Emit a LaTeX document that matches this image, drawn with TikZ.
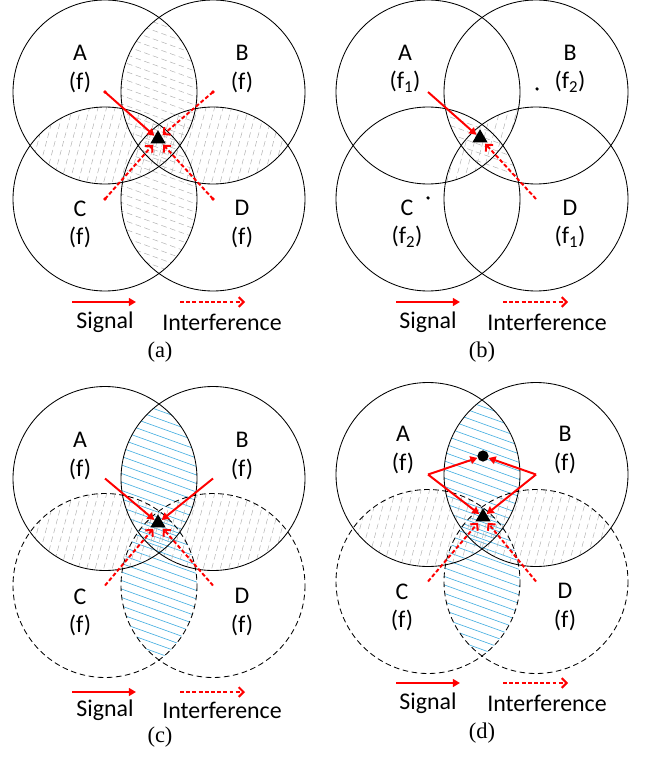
\documentclass[tikz,border=0pt]{standalone}
\usepackage{fontspec}
\setmainfont{Liberation Serif}
\newfontfamily\lblfont{Carlito}
\usetikzlibrary{arrows.meta,calc,shapes.geometric}
\definecolor{sigred}{HTML}{FF0000}
\definecolor{hatchblue}{HTML}{45AEE0}
\tikzset{
  cellring/.style={draw=black, line width=0.6pt},
  dashring/.style={cellring, dash pattern=on 4pt off 2.5pt},
  hatchgray/.style={gray!60, line width=0.35pt, dash pattern=on 4pt off 2.5pt},
  hatchcyan/.style={hatchblue, line width=0.45pt},
  sig/.style={sigred, line width=1.4pt, -{Triangle[length=5pt,width=5.5pt]}},
  intf/.style={sigred, line width=1.4pt, dash pattern=on 2.8pt off 1.6pt,
               -{Straight Barb[length=3.5pt,width=7pt]}},
  rx/.style={regular polygon, regular polygon sides=3, fill=black,
             inner sep=0pt, minimum size=12.5pt},
  cellname/.style={font=\lblfont\fontsize{17}{20}\selectfont, align=center},
  legendtxt/.style={font=\lblfont\fontsize{17}{20}\selectfont},
  caption/.style={font=\fontsize{16}{18}\selectfont},
  txdot/.style={circle, fill=#1, inner sep=0pt, minimum size=2.5pt},
}
% hatch the lens of two cells (radius 92)
\newcommand{\flathatch}[3]{%
  \begin{scope}
    \clip (#1) circle (92);
    \clip (#2) circle (92);
    \foreach \k in {-13,...,13}
      \draw[#3] ($(#1)!0.5!(#2)+(-75,8.5*\k-27)$) -- ++(150,54);
  \end{scope}}
\newcommand{\steephatch}[3]{%
  \begin{scope}
    \clip (#1) circle (92);
    \clip (#2) circle (92);
    \foreach \k in {-13,...,13}
      \draw[#3] ($(#1)!0.5!(#2)+(8.5*\k+20,-75)$) -- ++(-40,150);
  \end{scope}}

\begin{document}
\begin{tikzpicture}[x=0.025cm, y=-0.025cm]
  \useasboundingbox (0,0) rectangle (647,761);

  % (a) one frequency f in all four cells
  \coordinate (aA) at (105,92);
  \coordinate (aB) at (213,92);
  \coordinate (aC) at (105,199);
  \coordinate (aD) at (213,199);
  \flathatch{aA}{aB}{hatchgray}
  \flathatch{aC}{aD}{hatchgray}
  \steephatch{aA}{aC}{hatchgray}
  \steephatch{aB}{aD}{hatchgray}
  \foreach \ctr in {aA,aB,aC,aD}
    \draw[cellring] (\ctr) circle (92);
  \node[cellname] (aAn) at (80,69) {A\\(f)};
  \node[cellname] (aBn) at (242,69) {B\\(f)};
  \node[cellname] (aCn) at (80,224) {C\\(f)};
  \node[cellname] (aDn) at (242,224) {D\\(f)};
  \node[rx] (arx) at (158,139) {};
  \foreach \ctr in {aA,aB,aC,aD}
    \node[txdot=sigred] (\ctr dot) at (\ctr) {};
  \draw[sig] (aA) -- (arx);
  \draw[intf, shorten >=1pt] (aB) -- (arx);
  \draw[intf, shorten >=1pt] (aC) -- (arx);
  \draw[intf, shorten >=1pt] (aD) -- (arx);
  \coordinate (aS1) at (72,302);
  \coordinate (aS2) at (136,302);
  \coordinate (aI1) at (180,302);
  \coordinate (aI2) at (245,302);
  \draw[sig] (aS1) -- (aS2);
  \draw[intf] (aI1) -- (aI2);
  \node[legendtxt] (asig) at (105,322) {Signal};
  \node[legendtxt] (aint) at (222,322) {Interference};
  \node[caption] (acap) at (160,352) {(a)};

  % (b) f1 / f2 reuse
  \coordinate (bA) at (428,92);
  \coordinate (bB) at (536,92);
  \coordinate (bC) at (428,199);
  \coordinate (bD) at (536,199);
  \steephatch{bA}{bD}{hatchgray}
  \flathatch{bB}{bC}{hatchgray}
  \foreach \ctr in {bA,bB,bC,bD}
    \draw[cellring] (\ctr) circle (92);
  \node[cellname] (bAn) at (405,69) {A\\(f\textsubscript{1})};
  \node[cellname] (bBn) at (570,69) {B\\(f\textsubscript{2})};
  \node[cellname] (bCn) at (407,224) {C\\(f\textsubscript{2})};
  \node[cellname] (bDn) at (570,224) {D\\(f\textsubscript{1})};
  \node[txdot=black] (bBdot) at (537,89) {};
  \node[txdot=black] (bCdot) at (428,198) {};
  \node[rx] (brx) at (480,138) {};
  \draw[sig] (bA) -- (brx);
  \draw[intf, shorten >=1pt] (bD) -- (brx);
  \coordinate (bS1) at (396,302);
  \coordinate (bS2) at (460,302);
  \coordinate (bI1) at (503,302);
  \coordinate (bI2) at (568,302);
  \draw[sig] (bS1) -- (bS2);
  \draw[intf] (bI1) -- (bI2);
  \node[legendtxt] (bsig) at (428,322) {Signal};
  \node[legendtxt] (bint) at (547,322) {Interference};
  \node[caption] (bcap) at (482,352) {(b)};

  % (c) C and D sleep, A and B both serve
  \coordinate (cA) at (105,478.5);
  \coordinate (cB) at (213,478.5);
  \coordinate (cC) at (105,585.5);
  \coordinate (cD) at (213,585.5);
  \flathatch{cA}{cB}{hatchcyan}
  \flathatch{cC}{cD}{hatchcyan}
  \steephatch{cA}{cC}{hatchgray}
  \steephatch{cB}{cD}{hatchgray}
  \draw[cellring] (cA) circle (92);
  \draw[cellring] (cB) circle (92);
  \draw[dashring] (cC) circle (92);
  \draw[dashring] (cD) circle (92);
  \node[cellname] (cAn) at (80,456) {A\\(f)};
  \node[cellname] (cBn) at (242,456) {B\\(f)};
  \node[cellname] (cCn) at (80,612) {C\\(f)};
  \node[cellname] (cDn) at (242,612) {D\\(f)};
  \node[rx] (crx) at (158,523) {};
  \draw[sig] (cA) -- (crx);
  \draw[sig] (cB) -- (crx);
  \draw[intf, shorten >=1pt] (cC) -- (crx);
  \draw[intf, shorten >=1pt] (cD) -- (crx);
  \coordinate (cS1) at (72,692);
  \coordinate (cS2) at (136,692);
  \coordinate (cI1) at (180,692);
  \coordinate (cI2) at (245,692);
  \draw[sig] (cS1) -- (cS2);
  \draw[intf] (cI1) -- (cI2);
  \node[legendtxt] (csig) at (105,710) {Signal};
  \node[legendtxt] (cint) at (222,710) {Interference};
  \node[caption] (ccap) at (160,737) {(c)};

  % (d) two users in the A-B lens
  \coordinate (dA) at (428,474.5);
  \coordinate (dB) at (536,474.5);
  \coordinate (dC) at (428,581.5);
  \coordinate (dD) at (536,581.5);
  \flathatch{dA}{dB}{hatchcyan}
  \flathatch{dC}{dD}{hatchcyan}
  \steephatch{dA}{dC}{hatchgray}
  \steephatch{dB}{dD}{hatchgray}
  \draw[cellring] (dA) circle (92);
  \draw[cellring] (dB) circle (92);
  \draw[dashring] (dC) circle (92);
  \draw[dashring] (dD) circle (92);
  \node[cellname] (dAn) at (403,450) {A\\(f)};
  \node[cellname] (dBn) at (565,450) {B\\(f)};
  \node[cellname] (dCn) at (402,607) {C\\(f)};
  \node[cellname] (dDn) at (565,607) {D\\(f)};
  \node[circle, fill=black, inner sep=0pt, minimum size=8pt] (dusr) at (483,456) {};
  \node[rx] (drx) at (483,517) {};
  \draw[sig] (dA) -- (dusr);
  \draw[sig] (dB) -- (dusr);
  \draw[sig] (dA) -- (drx);
  \draw[sig] (dB) -- (drx);
  \draw[intf, shorten >=1pt] (dC) -- (drx);
  \draw[intf, shorten >=1pt] (dD) -- (drx);
  \coordinate (dS1) at (396,683);
  \coordinate (dS2) at (460,683);
  \coordinate (dI1) at (503,683);
  \coordinate (dI2) at (568,683);
  \draw[sig] (dS1) -- (dS2);
  \draw[intf] (dI1) -- (dI2);
  \node[legendtxt] (dsig) at (428,703) {Signal};
  \node[legendtxt] (dint) at (547,703) {Interference};
  \node[caption] (dcap) at (482,733) {(d)};
\end{tikzpicture}
\end{document}
